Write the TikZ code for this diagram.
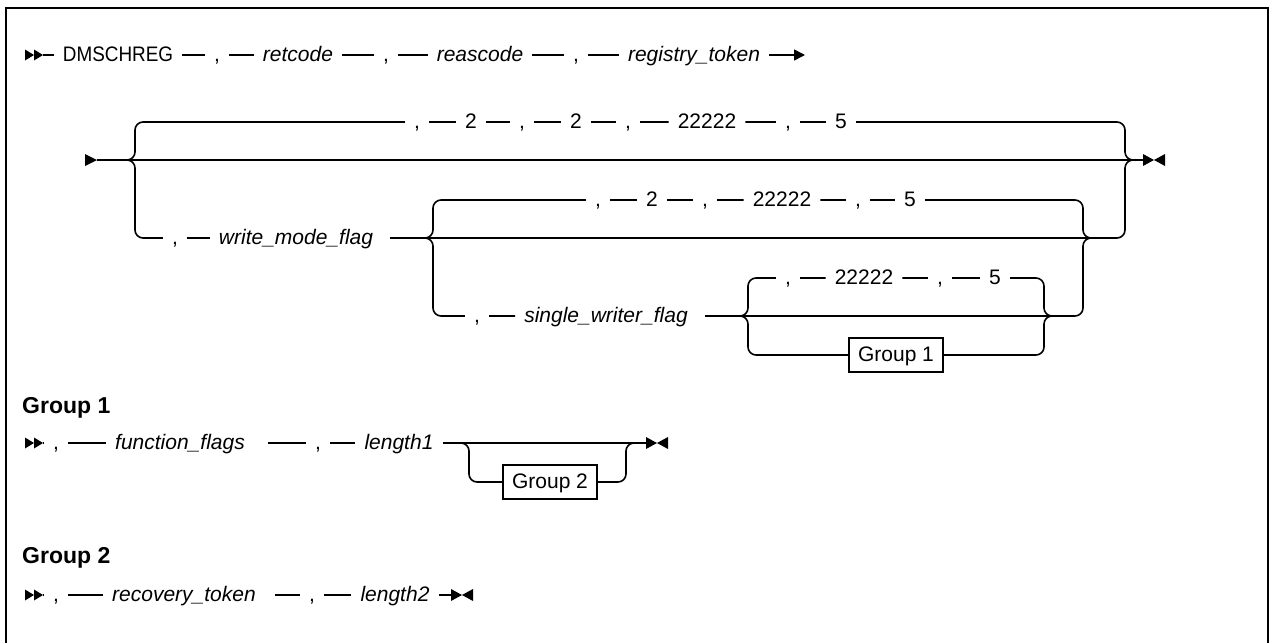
\documentclass[tikz,border=0pt]{standalone}
\usepackage{fontspec}
\setmainfont{Liberation Sans}
\newfontfamily\narrowsans{Liberation Sans}[FakeStretch=0.9]
\usetikzlibrary{arrows.meta}
\begin{document}
\begin{tikzpicture}[x=1pt, y=-1pt,
    rail/.style={line width=1.6pt, rounded corners=8pt},
    kw/.style={inner xsep=9pt, inner ysep=0pt, text height=15pt, text depth=3pt, font=\fontsize{21}{25}\selectfont},
    param/.style={kw, font=\fontsize{21}{25}\selectfont\itshape},
    grp/.style={draw, line width=1.6pt, inner xsep=9pt, inner ysep=8pt, text height=15pt, text depth=3pt, font=\fontsize{21}{25}\selectfont},
    grphead/.style={anchor=base west, inner sep=0pt, font=\fontsize{23}{27}\selectfont\bfseries},
    pics/twohead/.style={code={
      \fill (0,-5.5) -- (9,0) -- (0,5.5) -- cycle;
      \fill (9,-5.5) -- (18,0) -- (9,5.5) -- cycle;}},
    pics/onehead/.style={code={
      \fill (0,-6) -- (12,0) -- (0,6) -- cycle;}},
    pics/stopper/.style={code={
      \fill (0,-6) -- (11,0) -- (0,6) -- cycle;
      \fill (22,-6) -- (11,0) -- (22,6) -- cycle;}}]
  \useasboundingbox (0,0) rectangle (1274,643);
  \draw[line width=2.4pt] (6,643) -- (6,8) -- (1268,8) -- (1268,643);

  % first line
  \pic at (25,55) {twohead};
  \coordinate (st1) at (43,55);
  \node[kw, font=\fontsize{21}{25}\narrowsans] (dms) at (118,55) {DMSCHREG};
  \node[kw] (c1) at (217,55) {,};
  \node[param] (ret) at (298,55) {retcode};
  \node[kw] (c2) at (386,55) {,};
  \node[param] (reas) at (480,55) {reascode};
  \node[kw] (c3) at (576,55) {,};
  \node[param] (regtok) at (694,55) {registry\_token};
  \coordinate (r1end) at (805,55);
  \draw[rail] (st1) -- (dms) -- (c1) -- (ret) -- (c2) -- (reas) -- (c3) -- (regtok);
  \draw[rail, -{Triangle[length=11pt, width=11pt]}] (regtok) -- (r1end);

  % second line, main path
  \pic at (85,160) {onehead};
  \coordinate (st2) at (97,160);
  \coordinate (end2) at (1143,160);
  \pic at (1143,160) {stopper};
  \draw[rail] (st2) -- (end2);
  \coordinate (b1in) at (127,160);
  \coordinate (b1out) at (1133,160);
  \coordinate (b1tl) at (135,122);
  \coordinate (b1bl) at (135,238);
  \coordinate (b1tr) at (1125,122);
  \coordinate (b1br) at (1125,238);
  \node[kw] (tc1) at (417,122) {,};
  \node[kw] (tn1) at (471,122) {2};
  \node[kw] (tc2) at (522,122) {,};
  \node[kw] (tn2) at (576,122) {2};
  \node[kw] (tc3) at (628,122) {,};
  \node[kw] (tn3) at (707,122) {22222};
  \node[kw] (tc4) at (788,122) {,};
  \node[kw] (tn4) at (841,122) {5};
  \draw[rail] (b1in) -| (b1tl) -- (tc1) -- (tn1) -- (tc2) -- (tn2) -- (tc3) -- (tn3) -- (tc4) -- (tn4) -- (b1tr) |- (b1out);

  % write_mode_flag branch
  \node[kw] (bc1) at (175,238) {,};
  \node[param] (wmf) at (296,238) {write\_mode\_flag};
  \coordinate (b2in) at (425,238);
  \coordinate (b2out) at (1091,238);
  \coordinate (b2tl) at (433,200);
  \coordinate (b2bl) at (433,316);
  \coordinate (b2tr) at (1083,200);
  \coordinate (b2br) at (1083,316);
  \draw[rail] (b1in) -| (b1bl) -- (bc1) -- (wmf);
  \draw[rail, shorten <=8pt] (wmf) -- (b2in);
  \draw[rail] (b2in) -- (b2out) -- (b1br) |- (b1out);
  \node[kw] (mc1) at (598,200) {,};
  \node[kw] (mn1) at (652,200) {2};
  \node[kw] (mc2) at (705,200) {,};
  \node[kw] (mn2) at (782,200) {22222};
  \node[kw] (mc3) at (858,200) {,};
  \node[kw] (mn3) at (910,200) {5};
  \draw[rail] (b2in) -| (b2tl) -- (mc1) -- (mn1) -- (mc2) -- (mn2) -- (mc3) -- (mn3) -- (b2tr) |- (b2out);

  % single_writer_flag branch
  \node[kw] (lc1) at (477,316) {,};
  \node[param] (swf) at (606,316) {single\_writer\_flag};
  \coordinate (b3in) at (740,316);
  \coordinate (b3out) at (1052,316);
  \coordinate (b3tl) at (748,278);
  \coordinate (b3bl) at (748,355);
  \coordinate (b3tr) at (1044,278);
  \coordinate (b3br) at (1044,355);
  \draw[rail] (b2in) -| (b2bl) -- (lc1) -- (swf);
  \draw[rail, shorten <=8pt] (swf) -- (b3in);
  \draw[rail] (b3in) -- (b3out) -- (b2br) |- (b2out);
  \node[kw] (sc1) at (788,278) {,};
  \node[kw] (sn1) at (864,278) {22222};
  \node[kw] (sc2) at (940,278) {,};
  \node[kw] (sn2) at (995,278) {5};
  \draw[rail] (b3in) -| (b3tl) -- (sc1) -- (sn1) -- (sc2) -- (sn2) -- (b3tr) |- (b3out);
  \node[grp] (g1box) at (896,355) {Group 1};
  \draw[rail] (b3in) -| (b3bl) -- (g1box) -- (b3br) |- (b3out);

  % Group 1
  \node[grphead] (hg1) at (22,413) {Group 1};
  \pic at (25,443) {twohead};
  \coordinate (st3) at (43,443);
  \node[kw] (gc1) at (56,443) {,};
  \node[param] (ff) at (180,443) {function\_flags};
  \node[kw] (gc2) at (318,443) {,};
  \node[param] (len1) at (399,443) {length1};
  \coordinate (b4in) at (461,443);
  \coordinate (b4out) at (634,443);
  \coordinate (b4bl) at (469,482);
  \coordinate (b4br) at (626,482);
  \coordinate (end3) at (646,443);
  \pic at (646,443) {stopper};
  \node[grp] (g2box) at (550,482) {Group 2};
  \draw[rail] (st3) -- (gc1) -- (ff);
  \draw[rail, shorten <=14pt] (ff) -- (gc2);
  \draw[rail] (gc2) -- (len1) -- (end3);
  \draw[rail] (b4in) -| (b4bl) -- (g2box) -- (b4br) |- (b4out);

  % Group 2
  \node[grphead] (hg2) at (22,563) {Group 2};
  \pic at (25,595) {twohead};
  \coordinate (st4) at (43,595);
  \node[kw] (rc1) at (56,595) {,};
  \node[param] (rtok) at (184,595) {recovery\_token};
  \node[kw] (rc2) at (312,595) {,};
  \node[param] (len2) at (395,595) {length2};
  \coordinate (end4) at (451,595);
  \pic at (451,595) {stopper};
  \draw[rail] (st4) -- (rc1) -- (rtok);
  \draw[rail, shorten <=10pt] (rtok) -- (rc2);
  \draw[rail] (rc2) -- (len2) -- (end4);
\end{tikzpicture}
\end{document}
